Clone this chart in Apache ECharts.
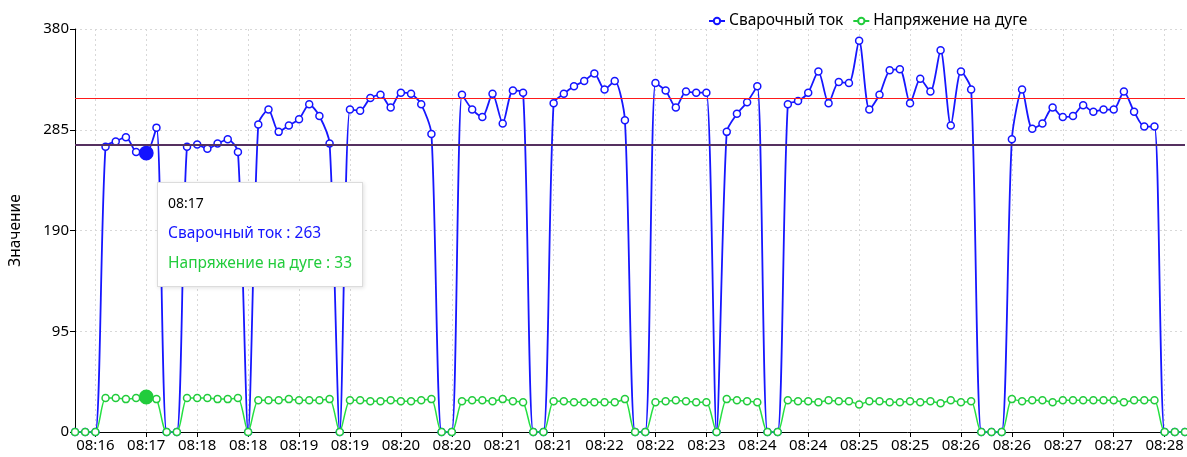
<!DOCTYPE html>
<html>
<head>
<meta charset="utf-8">
<script src="https://cdn.jsdelivr.net/npm/echarts@6/dist/echarts.min.js"></script>
<style>
html,body{margin:0;padding:0;background:#fff;}
#chart{width:1187px;height:457px;}
</style>
</head>
<body>
<div id="chart"></div>
<script>
var times = [
"08:16","08:16","08:16","08:16","08:16","08:16","08:16",
"08:17","08:17","08:17","08:17","08:17",
"08:18","08:18","08:18","08:18","08:18","08:18","08:18","08:18","08:18","08:18",
"08:19","08:19","08:19","08:19","08:19","08:19","08:19","08:19","08:19","08:19",
"08:20","08:20","08:20","08:20","08:20","08:20","08:20","08:20","08:20","08:20",
"08:21","08:21","08:21","08:21","08:21","08:21","08:21","08:21","08:21","08:21",
"08:22","08:22","08:22","08:22","08:22","08:22","08:22","08:22","08:22","08:22",
"08:23","08:23","08:23","08:23","08:23",
"08:24","08:24","08:24","08:24","08:24","08:24","08:24","08:24","08:24","08:24",
"08:25","08:25","08:25","08:25","08:25","08:25","08:25","08:25","08:25","08:25",
"08:26","08:26","08:26","08:26","08:26","08:26","08:26","08:26","08:26","08:26",
"08:27","08:27","08:27","08:27","08:27","08:27","08:27","08:27","08:27","08:27",
"08:28","08:28","08:28"
];
var currentValues = [
0,0,0,269,274,278,264,263,287,0,
0,269,271,267,272,276,264,0,290,304,
283,289,295,309,298,272,0,304,303,315,
318,306,320,319,309,281,0,0,318,304,
297,319,291,322,320,0,0,310,319,326,
331,338,323,331,294,0,0,329,322,306,
321,320,320,0,283,300,311,326,0,0,
309,312,320,340,310,330,329,369,304,318,
341,342,310,333,321,360,289,340,323,0,
0,0,276,323,286,291,306,297,298,308,
302,304,304,321,302,288,288,0,0,0
];
var voltageValues = [
0,0,0,32,32,31,32,33,31,0,
0,32,32,32,31,31,32,0,30,30,
30,31,30,30,30,31,0,30,30,29,
29,30,29,29,30,31,0,0,29,30,
30,29,31,29,28,0,0,29,29,28,
28,28,28,28,31,0,0,28,29,30,
29,28,28,0,31,30,29,28,0,0,
30,29,29,28,30,29,29,26,29,29,
28,28,29,28,29,27,30,28,29,0,
0,0,31,29,30,30,28,30,30,30,
30,30,30,28,30,30,30,0,0,0
];
var yTicks = [0, 95, 190, 285, 380];
var upperLimit = 315;
var lowerLimit = 271;
var seriesNames = ["Сварочный ток", "Напряжение на дуге"];
var yAxisName = "Значение";
var shownIndex = 7;

var BLUE = '#1414ff', GREEN = '#22cc3c';
var FONT = 'Noto Sans';
var labelEvery = function (i) { return i % 5 === 2; };

var chart = echarts.init(document.getElementById('chart'), null, {renderer: 'canvas'});
var option = {
  animation: false,
  textStyle: {fontFamily: FONT},
  grid: {left: 73, right: 2, top: 29, bottom: 25, containLabel: false},
  legend: {
    left: 703, top: 8,
    itemWidth: 16, itemHeight: 8, itemGap: 9,
    textStyle: {fontFamily: FONT, fontSize: 15.5, color: '#000', padding: [0, 0, 0, -1]},
    data: seriesNames
  },
  tooltip: {
    trigger: 'axis',
    triggerOn: 'none',
    alwaysShowContent: true,
    axisPointer: {type: 'none'},
    position: [157, 182],
    backgroundColor: '#fff',
    borderColor: '#dcdcdc',
    borderWidth: 1,
    padding: [12, 10, 15, 10],
    extraCssText: 'box-shadow:1px 1px 4px rgba(0,0,0,0.12);border-radius:0;',
    formatter: function (params) {
      var s = '<div style="font-family:' + FONT + ';font-size:14px;color:#000;line-height:16px;margin-bottom:12px;">' + params[0].axisValue + '</div>';
      params.forEach(function (p, k) {
        s += '<div style="font-family:' + FONT + ';font-size:15.5px;color:' + (k === 0 ? BLUE : GREEN) + ';line-height:18px;margin-bottom:' + (k === 0 ? 12 : 0) + 'px;">' + p.seriesName + ' : ' + p.value + '</div>';
      });
      return s;
    }
  },
  xAxis: {
    type: 'category',
    boundaryGap: false,
    data: times,
    axisLine: {lineStyle: {color: '#000', width: 1}},
    axisTick: {show: true, interval: labelEvery, length: 5, lineStyle: {color: '#000'}},
    axisLabel: {interval: labelEvery, fontSize: 15, color: '#000', margin: 6, fontFamily: FONT},
    splitLine: {show: true, interval: labelEvery, lineStyle: {color: '#d8d8d8', type: [2, 3], width: 1}}
  },
  yAxis: {
    type: 'value',
    min: yTicks[0], max: yTicks[yTicks.length - 1], interval: yTicks[1] - yTicks[0],
    name: yAxisName,
    nameLocation: 'middle',
    nameGap: 51,
    nameTextStyle: {fontSize: 15.5, color: '#000', fontFamily: FONT},
    axisLine: {show: true, lineStyle: {color: '#000', width: 1}},
    axisTick: {show: true, length: 5, lineStyle: {color: '#000'}},
    axisLabel: {fontSize: 15, color: '#000', margin: 6, fontFamily: FONT},
    splitLine: {show: true, lineStyle: {color: '#d8d8d8', type: [2, 3], width: 1}}
  },
  series: [
    {
      name: seriesNames[0],
      type: 'line',
      data: currentValues,
      smooth: 0.25,
      symbol: 'circle',
      symbolSize: 7,
      showSymbol: true,
      showAllSymbol: true,
      lineStyle: {color: BLUE, width: 1.8},
      itemStyle: {color: '#fff', borderColor: BLUE, borderWidth: 1.5},
      emphasis: {
        scale: 1.9,
        focus: 'none',
        lineStyle: {width: 1.8},
        itemStyle: {color: BLUE, borderColor: BLUE}
      },
      markLine: {
        silent: true,
        symbol: ['none', 'none'],
        label: {show: false},
        emphasis: {disabled: true},
        data: [
          {yAxis: upperLimit, lineStyle: {color: '#ff1a1a', width: 1.2, type: 'solid'}},
          {yAxis: lowerLimit, lineStyle: {color: '#553060', width: 1.8, type: 'solid'}}
        ]
      },
      z: 3
    },
    {
      name: seriesNames[1],
      type: 'line',
      data: voltageValues,
      smooth: 0.25,
      symbol: 'circle',
      symbolSize: 7,
      showSymbol: true,
      showAllSymbol: true,
      lineStyle: {color: GREEN, width: 1.5},
      itemStyle: {color: '#fff', borderColor: GREEN, borderWidth: 1.5},
      emphasis: {
        scale: 1.9,
        focus: 'none',
        lineStyle: {width: 1.5},
        itemStyle: {color: GREEN, borderColor: GREEN}
      },
      z: 4
    }
  ]
};
chart.setOption(option);
chart.dispatchAction({type: 'showTip', seriesIndex: 0, dataIndex: shownIndex});
chart.dispatchAction({type: 'highlight', seriesIndex: 0, dataIndex: shownIndex});
chart.dispatchAction({type: 'highlight', seriesIndex: 1, dataIndex: shownIndex});
</script>
</body>
</html>
